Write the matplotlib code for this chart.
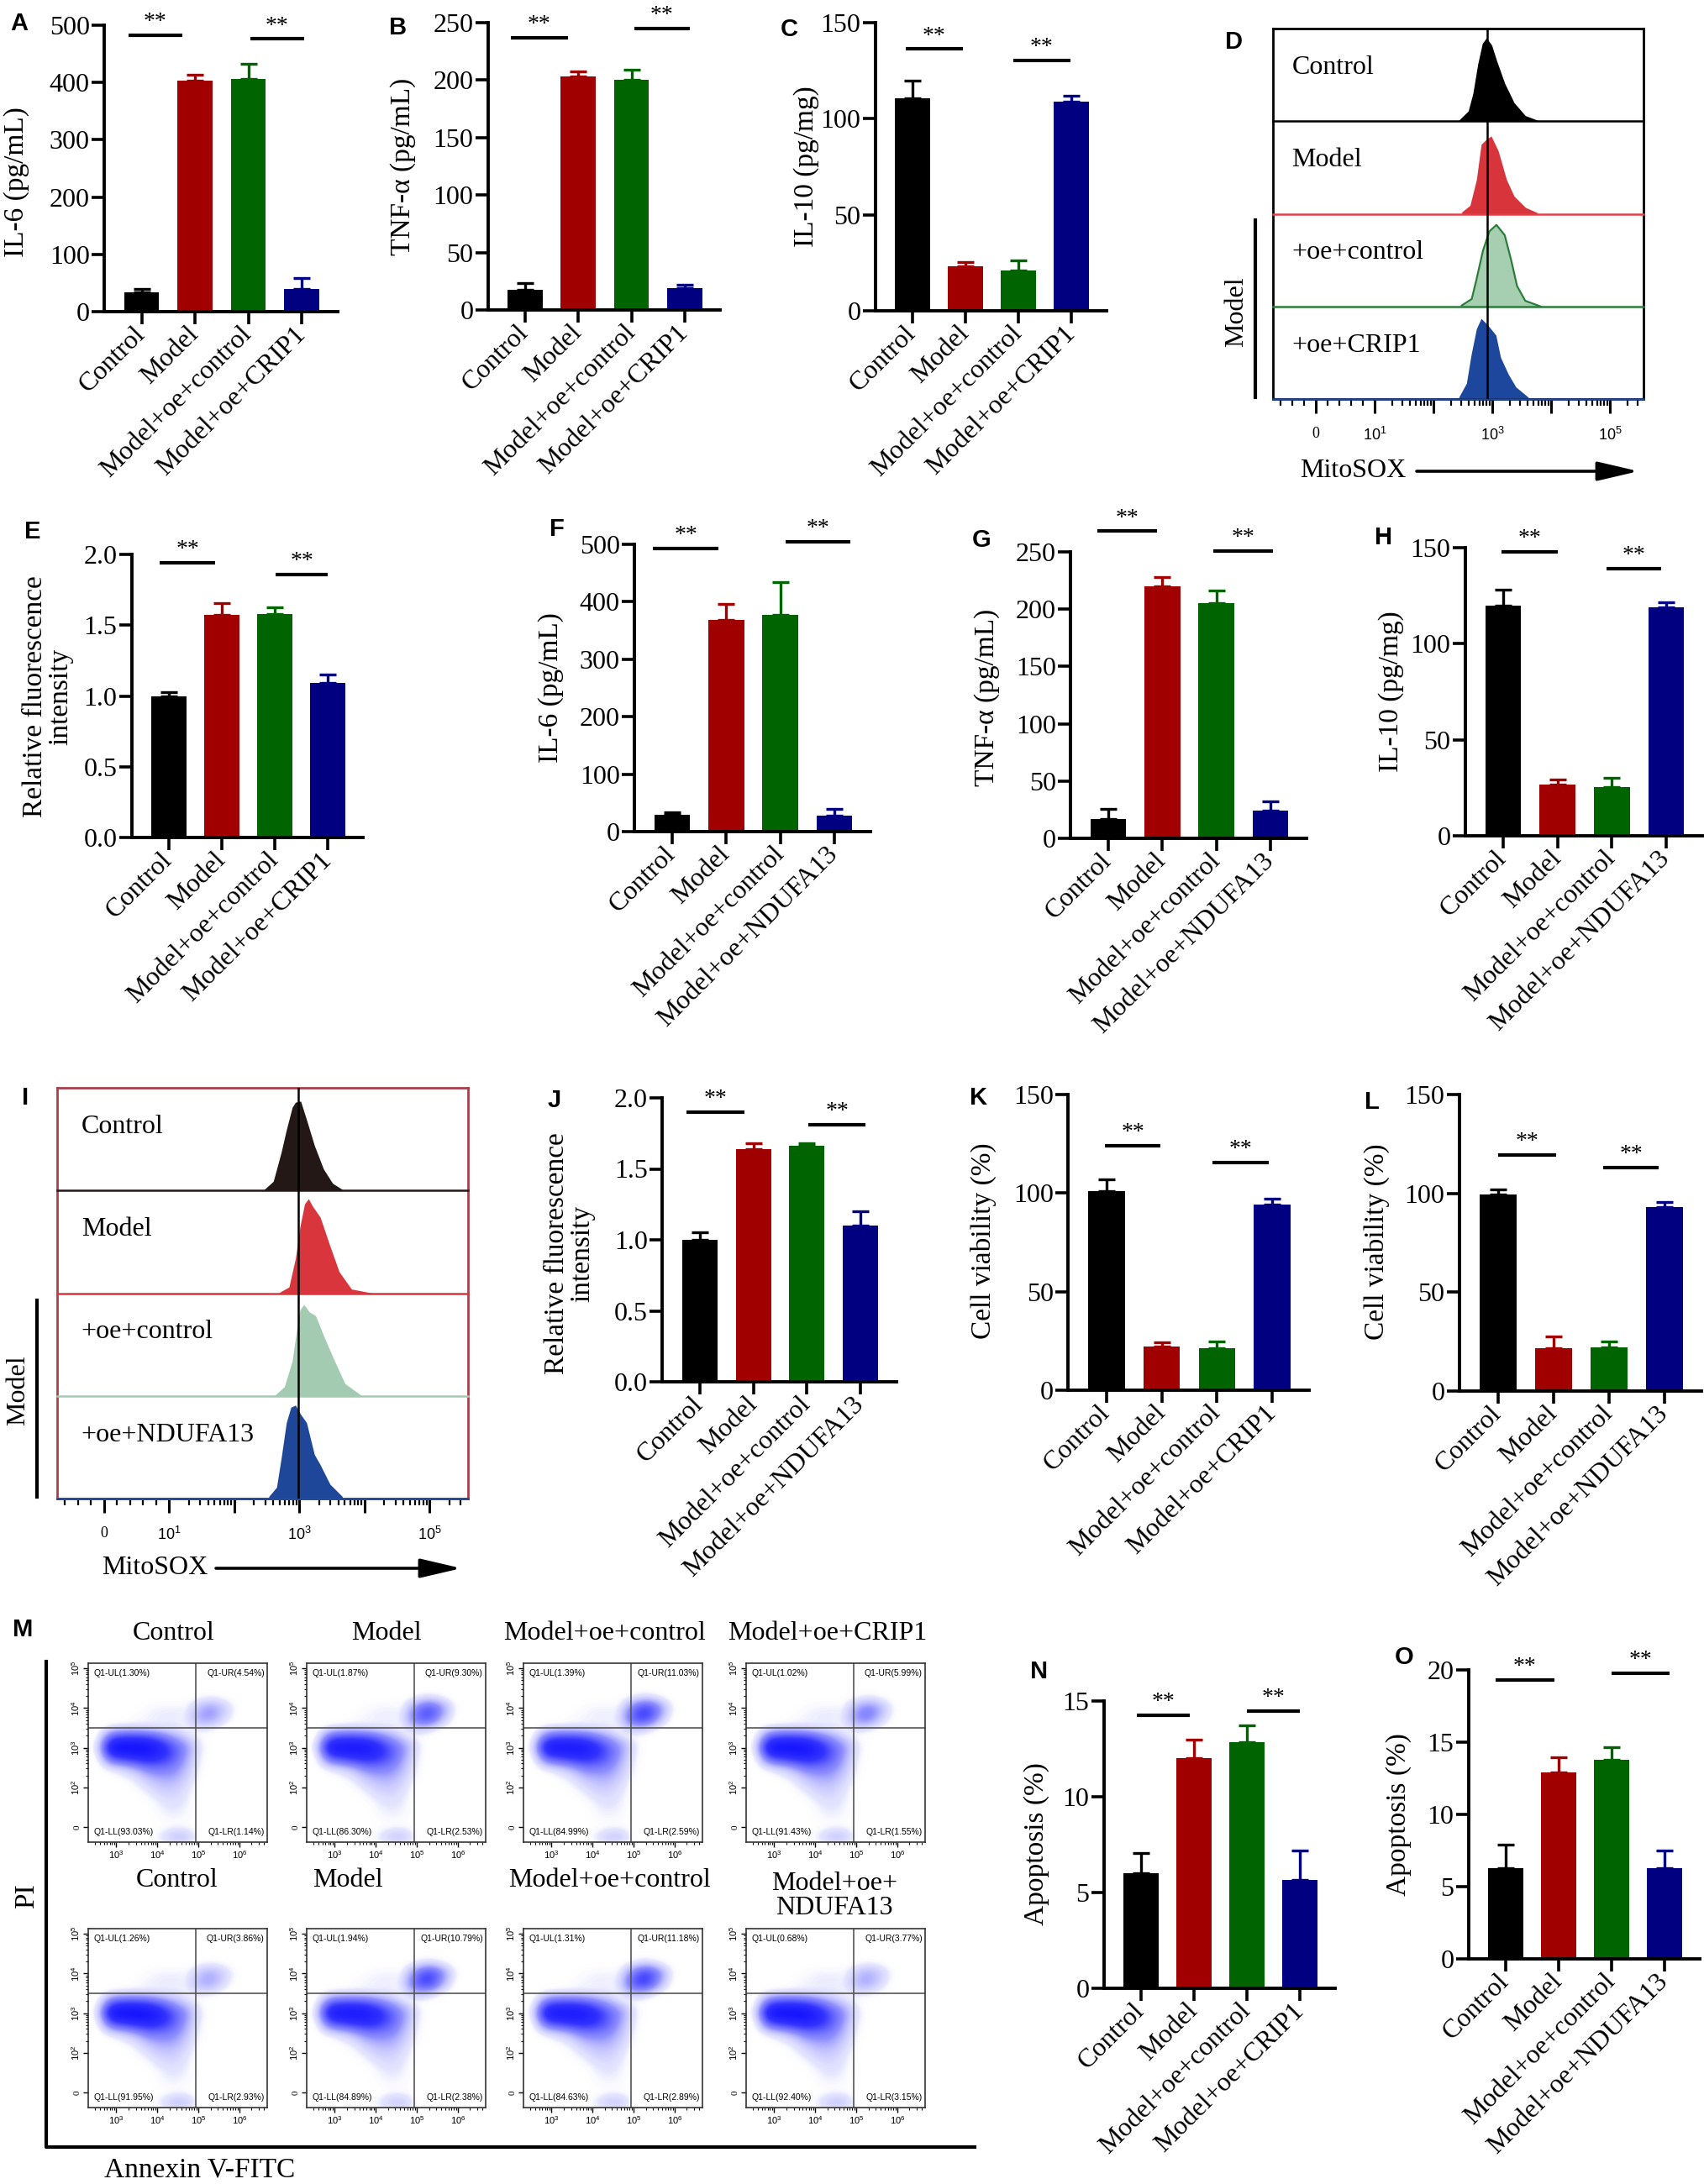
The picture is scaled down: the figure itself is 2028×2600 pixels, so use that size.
"""
CRIP1 / NDUFA13 figure: cytokines, MitoSOX, viability, apoptosis
"""

import numpy as np
import matplotlib
matplotlib.use("Agg")
import matplotlib.pyplot as plt
from matplotlib.colors import LinearSegmentedColormap

W, H = 2028, 2600

# ---------------- data ----------------
GROUPS_CRIP1 = ["Control", "Model", "Model+oe+control", "Model+oe+CRIP1"]
GROUPS_NDUFA13 = ["Control", "Model", "Model+oe+control", "Model+oe+NDUFA13"]
BAR_COLORS = ["#000000", "#a00000", "#006400", "#000080"]

IL6_CRIP1 = [34, 403, 406, 39]
IL6_CRIP1_SD = [6, 10, 27, 20]
TNF_CRIP1 = [17.5, 203, 200, 19]
TNF_CRIP1_SD = [6, 4.5, 9, 3.2]
IL10_CRIP1 = [110.8, 23.3, 21.1, 109]
IL10_CRIP1_SD = [9, 2.2, 5, 3]
ROS_CRIP1 = [1.0, 1.57, 1.58, 1.09]
ROS_CRIP1_SD = [0.025, 0.085, 0.045, 0.06]

IL6_NDUFA13 = [29, 368, 377, 28]
IL6_NDUFA13_SD = [4, 28, 57, 12]
TNF_NDUFA13 = [17, 220, 205, 24]
TNF_NDUFA13_SD = [9, 8, 11, 8]
IL10_NDUFA13 = [120, 26.5, 25.5, 119]
IL10_NDUFA13_SD = [8, 3, 4.5, 2.5]
ROS_NDUFA13 = [1.0, 1.64, 1.66, 1.10]
ROS_NDUFA13_SD = [0.055, 0.04, 0.02, 0.1]

VIAB_CRIP1 = [101, 22, 21.3, 94]
VIAB_CRIP1_SD = [6, 2.4, 3.5, 3]
VIAB_NDUFA13 = [99.5, 21.5, 22, 93]
VIAB_NDUFA13_SD = [2.5, 6, 3, 2.5]

APOP_CRIP1 = [6.0, 12.0, 12.85, 5.66]
APOP_CRIP1_SD = [1.05, 1.0, 0.9, 1.55]
APOP_NDUFA13 = [6.3, 12.9, 13.8, 6.3]
APOP_NDUFA13_SD = [1.6, 1.05, 0.85, 1.2]

# MitoSOX histograms (display units: 0 -> 0, 10^n -> n; height = fraction of row)
D_CTRL_U = [2.43, 2.59, 2.67, 2.75, 2.83, 2.90, 2.99, 3.07, 3.21, 3.37, 3.56, 3.77]
D_CTRL_H = [0.01, 0.11, 0.30, 0.61, 0.84, 0.90, 0.82, 0.66, 0.41, 0.20, 0.06, 0.01]
D_MODEL_U = [2.48, 2.62, 2.73, 2.81, 2.89, 2.98, 3.10, 3.24, 3.37, 3.56, 3.77]
D_MODEL_H = [0.02, 0.09, 0.37, 0.75, 0.80, 0.84, 0.68, 0.37, 0.19, 0.07, 0.01]
D_OECTRL_U = [2.48, 2.65, 2.73, 2.84, 2.95, 3.07, 3.21, 3.32, 3.42, 3.56, 3.82]
D_OECTRL_H = [0.01, 0.08, 0.29, 0.60, 0.81, 0.88, 0.77, 0.50, 0.22, 0.06, 0.00]
D_OECRIP1_U = [2.43, 2.56, 2.64, 2.73, 2.81, 2.92, 3.06, 3.14, 3.27, 3.40, 3.61]
D_OECRIP1_H = [0.02, 0.17, 0.48, 0.76, 0.87, 0.80, 0.69, 0.45, 0.27, 0.13, 0.02]

I_CTRL_U = [2.46, 2.60, 2.72, 2.80, 2.89, 2.94, 3.02, 3.11, 3.23, 3.37, 3.51, 3.66]
I_CTRL_H = [0.01, 0.09, 0.37, 0.59, 0.81, 0.86, 0.87, 0.69, 0.44, 0.21, 0.07, 0.01]
I_MODEL_U = [2.70, 2.84, 2.94, 3.01, 3.08, 3.14, 3.20, 3.32, 3.47, 3.61, 3.80, 4.13]
I_MODEL_H = [0.01, 0.06, 0.34, 0.65, 0.87, 0.92, 0.85, 0.74, 0.46, 0.21, 0.04, 0.00]
I_OECTRL_U = [2.63, 2.77, 2.89, 2.96, 3.01, 3.07, 3.15, 3.25, 3.37, 3.54, 3.70, 3.94]
I_OECTRL_H = [0.01, 0.09, 0.34, 0.65, 0.84, 0.89, 0.82, 0.78, 0.59, 0.34, 0.12, 0.01]
I_OENDUFA13_U = [2.53, 2.65, 2.72, 2.80, 2.87, 2.94, 3.02, 3.11, 3.23, 3.32, 3.47, 3.66]
I_OENDUFA13_H = [0.02, 0.11, 0.39, 0.74, 0.89, 0.91, 0.82, 0.74, 0.43, 0.33, 0.14, 0.02]

D_LABELS = ["Control", "Model", "+oe+control", "+oe+CRIP1"]
I_LABELS = ["Control", "Model", "+oe+control", "+oe+NDUFA13"]

# flow cytometry (Annexin V-FITC / PI) quadrant percentages: UL, UR, LL, LR
FLOW_TITLES_1 = ["Control", "Model", "Model+oe+control", "Model+oe+CRIP1"]
FLOW_TITLES_2 = ["Control", "Model", "Model+oe+control", "Model+oe+\nNDUFA13"]
FLOW_Q_1 = [[1.30, 4.54, 93.03, 1.14], [1.87, 9.30, 86.30, 2.53],
            [1.39, 11.03, 84.99, 2.59], [1.02, 5.99, 91.43, 1.55]]
FLOW_Q_2 = [[1.26, 3.86, 91.95, 2.93], [1.94, 10.79, 84.89, 2.38],
            [1.31, 11.18, 84.63, 2.89], [0.68, 3.77, 92.40, 3.15]]

# event density: log10 Annexin (cols) x PI display units (rows)
LL_X = [2.6, 2.9, 3.2, 3.5, 3.8, 4.1, 4.4, 4.7, 5.0]
LL_Y = [3.0, 2.75, 2.5, 2.25, 2.0, 1.75, 1.5, 1.25, 1.0, 0.75, 0.5, 0.25, 0.0, -0.25]
LL_CLOUD = [
    [0, 0, 0, 0, 0.02, 0.03, 0.03, 0.03, 0],
    [0, 0, 0, 0.02, 0.03, 0.04, 0.04, 0.04, 0.01],
    [0, 0.02, 0.03, 0.03, 0.03, 0.03, 0.03, 0.03, 0.01],
    [0, 0.45, 0.55, 0.55, 0.50, 0.35, 0.20, 0.10, 0.02],
    [0.05, 1.00, 1.00, 1.00, 0.95, 0.75, 0.45, 0.25, 0.05],
    [0, 0.50, 0.60, 0.70, 0.75, 0.65, 0.45, 0.20, 0.03],
    [0, 0.05, 0.10, 0.20, 0.35, 0.35, 0.30, 0.15, 0.02],
    [0, 0, 0.02, 0.05, 0.15, 0.20, 0.20, 0.10, 0.01],
    [0, 0, 0, 0.02, 0.06, 0.12, 0.12, 0.06, 0],
    [0, 0, 0, 0, 0.02, 0.06, 0.08, 0.04, 0],
    [0, 0, 0, 0, 0, 0.03, 0.05, 0.03, 0],
    [0, 0, 0, 0, 0, 0.02, 0.03, 0.02, 0],
    [0, 0, 0, 0, 0, 0, 0.01, 0.01, 0],
    [0, 0, 0, 0, 0, 0.05, 0.15, 0.15, 0],
]
UR_X = [4.7, 5.0, 5.3, 5.6, 5.9]
UR_Y = [3.25, 3.0, 2.75, 2.5]
UR_CLUSTER = [
    [0, 0.02, 0.05, 0.02, 0],
    [0.02, 0.25, 0.45, 0.25, 0.02],
    [0.05, 0.35, 0.45, 0.15, 0],
    [0.02, 0.10, 0.05, 0, 0],
]

# ---------------- style ----------------
SERIF = ["Liberation Serif", "DejaVu Serif"]
SANS = ["Liberation Sans", "DejaVu Sans"]
plt.rcParams["font.family"] = SERIF
plt.rcParams["mathtext.fontset"] = "custom"
plt.rcParams["mathtext.rm"] = "Liberation Sans"
plt.rcParams["mathtext.it"] = "Liberation Sans:italic"
plt.rcParams["mathtext.bf"] = "Liberation Sans:bold"


def fig_rect(left, top, width, height):
    return [left / W, 1 - (top + height) / H, width / W, height / H]


# bar panels: layout in pixels of the final image
BAR_PANELS = [
    dict(letter="A", lxy=(23, 28), c0=168.5, sp=63.5, top=30, base=371, ymax=500, step=100,
         vals=IL6_CRIP1, err=IL6_CRIP1_SD, groups=GROUPS_CRIP1, ylabel="IL-6 (pg/mL)",
         yl=(20, 217), sig=[(-0.24, 0.76, 483), (2.04, 3.04, 476)]),
    dict(letter="B", lxy=(474, 33), c0=625, sp=63.3, top=27, base=369, ymax=250, step=50,
         vals=TNF_CRIP1, err=TNF_CRIP1_SD, groups=GROUPS_CRIP1, ylabel="TNF-α (pg/mL)",
         yl=(480, 198), sig=[(-0.27, 0.8, 237), (2.05, 3.1, 245)]),
    dict(letter="C", lxy=(939, 35), c0=1086, sp=63, top=27, base=370, ymax=150, step=50,
         vals=IL10_CRIP1, err=IL10_CRIP1_SD, groups=GROUPS_CRIP1, ylabel="IL-10 (pg/mg)",
         yl=(960, 198), sig=[(-0.13, 0.95, 136.3), (1.9, 2.98, 130.2)]),
    dict(letter="E", lxy=(39, 633), c0=201, sp=63, top=660, base=997, ymax=2.0, step=0.5,
         vals=ROS_CRIP1, err=ROS_CRIP1_SD, groups=GROUPS_CRIP1,
         ylabel="Relative fluorescence\nintensity", yl=(57, 829),
         sig=[(-0.17, 0.87, 1.94), (2.02, 3.0, 1.86)]),
    dict(letter="F", lxy=(663, 630), c0=800, sp=64.3, top=648, base=990, ymax=500, step=100,
         vals=IL6_NDUFA13, err=IL6_NDUFA13_SD, groups=GROUPS_NDUFA13, ylabel="IL-6 (pg/mL)",
         yl=(656, 819), sig=[(-0.35, 0.85, 493), (2.1, 3.3, 504)]),
    dict(letter="G", lxy=(1168, 643), c0=1319, sp=64.3, top=657, base=998, ymax=250, step=50,
         vals=TNF_NDUFA13, err=TNF_NDUFA13_SD, groups=GROUPS_NDUFA13, ylabel="TNF-α (pg/mL)",
         yl=(1175, 830), sig=[(-0.2, 0.9, 268), (1.95, 3.05, 251)]),
    dict(letter="H", lxy=(1647, 640), c0=1789, sp=64.7, top=652, base=995, ymax=150, step=50,
         vals=IL10_NDUFA13, err=IL10_NDUFA13_SD, groups=GROUPS_NDUFA13, ylabel="IL-10 (pg/mg)",
         yl=(1656, 823), sig=[(-0.03, 1.0, 148), (1.9, 2.9, 139)]),
    dict(letter="J", lxy=(660, 1310), c0=833, sp=63.7, top=1307, base=1645, ymax=2.0, step=0.5,
         vals=ROS_NDUFA13, err=ROS_NDUFA13_SD, groups=GROUPS_NDUFA13,
         ylabel="Relative fluorescence\nintensity", yl=(678, 1492),
         sig=[(-0.25, 0.83, 1.90), (2.03, 3.1, 1.81)]),
    dict(letter="K", lxy=(1165, 1307), c0=1317, sp=65.7, top=1303, base=1655, ymax=150, step=50,
         vals=VIAB_CRIP1, err=VIAB_CRIP1_SD, groups=GROUPS_CRIP1, ylabel="Cell viability (%)",
         yl=(1170, 1477), sig=[(-0.03, 0.98, 124), (1.92, 2.93, 115.5)]),
    dict(letter="L", lxy=(1633, 1312), c0=1783, sp=66, top=1303, base=1656, ymax=150, step=50,
         vals=VIAB_NDUFA13, err=VIAB_NDUFA13_SD, groups=GROUPS_NDUFA13, ylabel="Cell viability (%)",
         yl=(1638, 1478), sig=[(0.0, 1.05, 119.4), (1.9, 2.9, 113)]),
    dict(letter="N", lxy=(1237, 1990), c0=1358, sp=63, top=2025, base=2367, ymax=15, step=5,
         vals=APOP_CRIP1, err=APOP_CRIP1_SD, groups=GROUPS_CRIP1, ylabel="Apoptosis (%)",
         yl=(1234, 2195), sig=[(-0.08, 0.92, 14.25), (2.0, 3.0, 14.47)]),
    dict(letter="O", lxy=(1671, 1973), c0=1792, sp=63, top=1988, base=2332, ymax=20, step=5,
         vals=APOP_NDUFA13, err=APOP_NDUFA13_SD, groups=GROUPS_NDUFA13, ylabel="Apoptosis (%)",
         yl=(1665, 2160), sig=[(-0.19, 0.92, 19.3), (2.0, 3.1, 19.77)]),
]


def bar_panel(fig, ov, p):
    sp = p["sp"]
    left = p["c0"] - 0.7 * sp
    ax = fig.add_axes(fig_rect(left, p["top"], 4.37 * sp, p["base"] - p["top"]))
    x = np.arange(len(p["vals"]))
    ax.bar(x, p["vals"], width=0.66, color=BAR_COLORS, zorder=2)
    for xi, v, e, c in zip(x, p["vals"], p["err"], BAR_COLORS):
        ax.errorbar(xi, v, yerr=[[0], [e]], fmt="none", ecolor=c, elinewidth=2.4,
                    capsize=7, capthick=2.4, zorder=1)
    ax.set_xlim(-0.7, 3.67)
    ax.set_ylim(0, p["ymax"])
    ticks = np.arange(0, p["ymax"] + p["step"] / 2, p["step"])
    ax.set_yticks(ticks)
    if p["step"] < 1:
        ax.set_yticklabels([f"{t:.1f}" for t in ticks])
    else:
        ax.set_yticklabels([f"{t:.0f}" for t in ticks])
    ax.set_xticks(x)
    ax.set_xticklabels(p["groups"], rotation=45, ha="right", va="center",
                       rotation_mode="anchor", fontsize=23)
    for s in ("top", "right"):
        ax.spines[s].set_visible(False)
    for s in ("left", "bottom"):
        ax.spines[s].set_linewidth(2.8)
    ax.tick_params(axis="both", direction="out", length=10.5, width=2.6)
    ax.tick_params(axis="y", labelsize=23, pad=2)
    ax.tick_params(axis="x", pad=6)
    for x0, x1, y in p["sig"]:
        ax.plot([x0, x1], [y, y], color="k", lw=3, clip_on=False, solid_capstyle="butt")
        ax.annotate("**", xy=((x0 + x1) / 2, y), xytext=(0, 2), textcoords="offset points",
                    ha="center", va="bottom", fontsize=20, annotation_clip=False)
    ov.text(*p["yl"], p["ylabel"], rotation=90, ha="center", va="center", fontsize=24,
            linespacing=1.0)
    ov.text(*p["lxy"], p["letter"], ha="center", va="center", fontsize=21,
            fontweight="bold", family=SANS)
    return ax


def biex_ticks(ax, ulim):
    ax.set_xticks([0, 1, 2, 3, 4, 5])
    ax.set_xticklabels(["0", "$10^{1}$", "", "$10^{3}$", "", "$10^{5}$"])
    minor = [u for u in np.arange(-0.6, 1.0, 0.2) if abs(u) > 1e-6 and u > ulim[0]]
    for n in range(1, 6):
        minor += [n + np.log10(k) for k in range(2, 10) if n + np.log10(k) < ulim[1]]
    ax.set_xticks(minor, minor=True)
    ax.tick_params(axis="x", which="major", direction="out", length=12, width=2.2,
                   labelsize=13, pad=12)
    ax.tick_params(axis="x", which="minor", direction="out", length=6, width=1.6)
    ax.set_yticks([])


def hist_panel(fig, ov, box, ulim, curves, labels, fills, edges, bases, border,
               marker_u, label_u, label_frac):
    left, top, right, bottom = box
    ax = fig.add_axes(fig_rect(left, top, right - left, bottom - top))
    ax.set_xlim(*ulim)
    ax.set_ylim(0, 4)
    for i, (u, h) in enumerate(curves):
        b = 3 - i
        ax.fill_between(u, b, b + np.array(h), color=fills[i], lw=0, zorder=2)
        if edges[i]:
            ax.plot(u, b + np.array(h), color=edges[i], lw=1.6, zorder=3)
        ax.plot(ulim, [b, b], color=bases[i], lw=1.8, zorder=3, clip_on=False)
        ax.text(label_u, b + label_frac, labels[i], fontsize=23, va="center", ha="left")
    ax.axvline(marker_u, color="k", lw=1.8, zorder=4)
    for s in ax.spines.values():
        s.set_color(border)
        s.set_linewidth(2.0)
    biex_ticks(ax, ulim)
    return ax


def padded(grid, xs, ys):
    # zero border so the interpolated cloud fades out instead of ending on a hard edge
    dx = xs[1] - xs[0]
    dy = ys[0] - ys[1]
    g = np.pad(np.array(grid, dtype=float), 1)
    ext = (xs[0] - 1.5 * dx, xs[-1] + 1.5 * dx, ys[-1] - 1.5 * dy, ys[0] + 1.5 * dy)
    return g, ext


def flow_panel(fig, left, top, size, quads, cmap):
    ax = fig.add_axes(fig_rect(left, top, size, size))
    ul, ur, ll, lr = quads
    for grid, xs, ys, w in ((LL_CLOUD, LL_X, LL_Y, ll / 90.0),
                            (UR_CLUSTER, UR_X, UR_Y, ur / 8.0)):
        g, ext = padded(grid, xs, ys)
        ax.imshow(g * w, extent=ext, origin="upper", cmap=cmap, vmin=0, vmax=1,
                  interpolation="bicubic", aspect="auto", zorder=1)
    ax.set_xlim(2.32, 6.68)
    ax.set_ylim(-0.38, 4.13)
    ax.axvline(4.93, color="#555555", lw=1.2, zorder=2)
    ax.axhline(2.49, color="#555555", lw=1.2, zorder=2)
    fs = 7.5
    ax.text(0.03, 0.965, f"Q1-UL({ul:.2f}%)", transform=ax.transAxes, ha="left", va="top",
            fontsize=fs, family=SANS)
    ax.text(0.985, 0.965, f"Q1-UR({ur:.2f}%)", transform=ax.transAxes, ha="right", va="top",
            fontsize=fs, family=SANS)
    ax.text(0.03, 0.035, f"Q1-LL({ll:.2f}%)", transform=ax.transAxes, ha="left", va="bottom",
            fontsize=fs, family=SANS)
    ax.text(0.985, 0.035, f"Q1-LR({lr:.2f}%)", transform=ax.transAxes, ha="right", va="bottom",
            fontsize=fs, family=SANS)
    ax.set_xticks([3, 4, 5, 6])
    ax.set_xticklabels(["$10^{3}$", "$10^{4}$", "$10^{5}$", "$10^{6}$"])
    xminor = [n + np.log10(k) for n in range(2, 7) for k in range(2, 10)
              if 2.32 < n + np.log10(k) < 6.68]
    ax.set_xticks(xminor, minor=True)
    ax.set_yticks([0, 1, 2, 3, 4])
    ax.set_yticklabels(["0", "$10^{2}$", "$10^{3}$", "$10^{4}$", "$10^{5}$"],
                       rotation=90, va="center")
    yminor = [n + np.log10(k) for n in range(1, 5) for k in range(2, 10)
              if n + np.log10(k) < 4.13]
    ax.set_yticks(yminor, minor=True)
    ax.tick_params(which="major", direction="out", length=4, width=1, labelsize=8, pad=2)
    ax.tick_params(which="minor", direction="out", length=2, width=0.8)
    for s in ax.spines.values():
        s.set_linewidth(1.2)
        s.set_color("#333333")
    return ax


def main():
    fig = plt.figure(figsize=(W / 100, H / 100), dpi=100)
    ov = fig.add_axes([0, 0, 1, 1], zorder=10)
    ov.set_xlim(0, W)
    ov.set_ylim(H, 0)
    ov.axis("off")

    for p in BAR_PANELS:
        bar_panel(fig, ov, p)

    # D: MitoSOX histogram, CRIP1
    hist_panel(fig, ov, (1515, 34, 1956, 475), (-0.73, 5.57),
               [(D_CTRL_U, D_CTRL_H), (D_MODEL_U, D_MODEL_H),
                (D_OECTRL_U, D_OECTRL_H), (D_OECRIP1_U, D_OECRIP1_H)],
               D_LABELS, ["#000000", "#d8343b", "#a6cfb2", "#1d479c"],
               [None, None, "#2c7d3a", None],
               ["#000000", "#e04048", "#2c7d3a", "#1d479c"], "#000000",
               2.91, -0.41, 0.58)
    ov.text(1468, 50, "D", ha="center", va="center", fontsize=21, fontweight="bold", family=SANS)
    ov.text(1472, 371, "Model", rotation=90, ha="center", va="center", fontsize=23)
    ov.plot([1494, 1494], [262, 473], color="k", lw=3)
    ov.text(1610, 561, "MitoSOX", ha="center", va="center", fontsize=23)
    ov.annotate("", xy=(1950, 561), xytext=(1686, 561),
                arrowprops=dict(arrowstyle="-|>,head_length=1.5,head_width=0.35",
                                lw=2.6, color="k", mutation_scale=20, shrinkA=0, shrinkB=0))

    # I: MitoSOX histogram, NDUFA13
    hist_panel(fig, ov, (68, 1295, 557, 1784), (-0.72, 5.59),
               [(I_CTRL_U, I_CTRL_H), (I_MODEL_U, I_MODEL_H),
                (I_OECTRL_U, I_OECTRL_H), (I_OENDUFA13_U, I_OENDUFA13_H)],
               I_LABELS, ["#231815", "#d9353c", "#a3cbb1", "#1e4799"],
               [None, None, None, None],
               ["#231815", "#d9353c", "#a3cbb1", "#1e4799"], "#a8404c",
               2.98, -0.35, 0.62)
    ov.text(30, 1307, "I", ha="center", va="center", fontsize=21, fontweight="bold", family=SANS)
    ov.text(22, 1655, "Model", rotation=90, ha="center", va="center", fontsize=23)
    ov.plot([44, 44], [1548, 1782], color="k", lw=3)
    ov.text(184, 1867, "MitoSOX", ha="center", va="center", fontsize=23)
    ov.annotate("", xy=(549, 1867), xytext=(257, 1867),
                arrowprops=dict(arrowstyle="-|>,head_length=1.5,head_width=0.35",
                                lw=2.6, color="k", mutation_scale=20, shrinkA=0, shrinkB=0))

    # M: flow cytometry
    cmap = LinearSegmentedColormap.from_list(
        "flow", [(0, (1, 1, 1, 0)), (0.04, (0.88, 0.88, 1, 0.8)), (0.25, (0.56, 0.56, 1, 1)),
                 (0.6, (0.2, 0.2, 1, 1)), (1, (0.05, 0.05, 1, 1))])
    cmap.set_under((1, 1, 1, 0))
    col_left = [105, 365, 623, 888]
    row_top = [1980, 2296]
    for j, q in enumerate(FLOW_Q_1):
        flow_panel(fig, col_left[j], row_top[0], 213, q, cmap)
    for j, q in enumerate(FLOW_Q_2):
        flow_panel(fig, col_left[j], row_top[1], 213, q, cmap)
    for t, x in zip(FLOW_TITLES_1, [207, 460, 719, 985]):
        ov.text(x, 1945, t, ha="center", va="center", fontsize=23)
    for t, x in zip(FLOW_TITLES_2, [211, 414, 726, 993]):
        y = 2257 if "\n" in t else 2239
        ov.text(x, y, t, ha="center", va="center", fontsize=23, linespacing=1.0)
    ov.text(27, 1940, "M", ha="center", va="center", fontsize=21, fontweight="bold", family=SANS)
    ov.plot([55, 55, 1160], [1978, 2556, 2556], color="k", lw=3)
    ov.text(32, 2257, "PI", rotation=90, ha="center", va="center", fontsize=24)
    ov.text(238, 2583, "Annexin V-FITC", ha="center", va="center", fontsize=24)

    fig.savefig("out.png", dpi=100)
    plt.close(fig)


if __name__ == "__main__":
    main()
